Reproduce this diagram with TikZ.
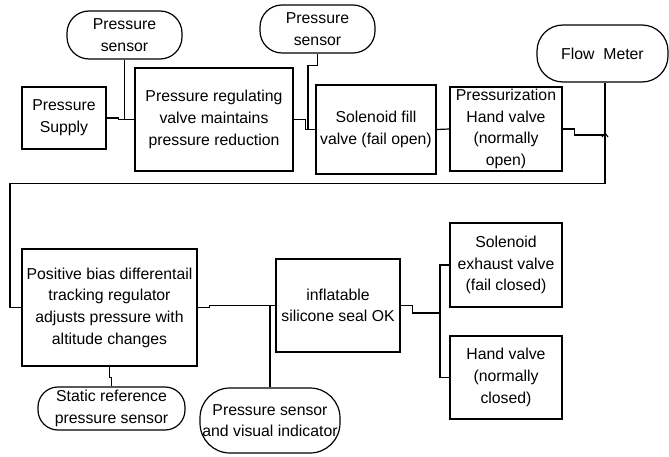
\documentclass[tikz,border=0pt]{standalone}
\usepackage{fontspec}
\setmainfont{Liberation Sans}
\usetikzlibrary{calc}
\begin{document}
\begin{tikzpicture}[x=1pt,y=-1pt,
  every node/.style={font=\fontsize{15.8}{21.7}\selectfont, align=center, inner sep=0pt},
  box/.style={draw, line width=1.3pt},
  pill/.style={draw, line width=1.2pt, rounded corners=22pt},
  wire/.style={line width=1.2pt}]
\useasboundingbox (0,0) rectangle (669,457);
% top row
\node[box, minimum width=84pt, minimum height=62pt] (supply) at (64,118) {Pressure\\Supply};
\node[pill, minimum width=115pt, minimum height=48pt] (sensA) at (124.5,35) {Pressure\\sensor};
\node[box, minimum width=158pt, minimum height=103pt] (reg) at (214,119.5) {Pressure regulating\\valve maintains\\pressure reduction};
\node[pill, minimum width=115pt, minimum height=48pt] (sensB) at (317.5,29) {Pressure\\sensor};
\node[box, minimum width=120pt, minimum height=89pt] (fill) at (376,129.5) {Solenoid fill\\valve (fail open)};
\node[box, minimum width=112pt, minimum height=84pt] (handA) at (506,129) {Pressurization\\Hand valve\\(normally\\open)};
\node[pill, minimum width=131pt, minimum height=57pt, rounded corners=26pt] (flow) at (602.5,53.5) {Flow\ \ Meter};
% bottom part
\node[box, minimum width=175pt, minimum height=117pt] (bias) at (109.5,307.5) {Positive bias differentail\\tracking regulator\\adjusts pressure with\\altitude changes};
\node[pill, minimum width=147pt, minimum height=43pt, rounded corners=20pt] (static) at (111.5,408.5) {Static reference\\pressure sensor};
\node[pill, minimum width=140pt, minimum height=65pt, rounded corners=30pt] (psvi) at (270,420.5) {Pressure sensor\\and visual indicator};
\node[box, minimum width=124pt, minimum height=93pt] (seal) at (338,305.5) {inflatable\\silicone seal OK};
\node[box, minimum width=112pt, minimum height=84pt] (exh) at (506,265) {Solenoid\\exhaust valve\\(fail closed)};
\node[box, minimum width=112pt, minimum height=83pt] (handB) at (506,377.5) {Hand valve\\(normally\\closed)};
% connectors top
\draw[wire] (supply.east) -- ++(12,0) |- (reg.west);
\draw[wire] (sensA.south) -- (sensA.south |- reg.west);
\draw[wire] (reg.east) -- ++(12,0) |- (fill.west);
\draw[wire] (sensB.south) -- ++(0,12) -- ++(-9.5,0) |- (fill.west);
\draw[wire] (fill.east) -- (handA.west);
\coordinate (hop) at (605,135);
\draw[wire] (handA.east) -- ++(12,0) |- (hop);
\draw[line width=1pt] ($(hop)+(-3,2)$) -- ($(hop)+(0,-2)$) -- ($(hop)+(3,2)$);
\draw[wire] (flow.south) ++(2.5,0) -- ++(0,101) -| (10,307.5) -- (bias.west);
% connectors bottom
\draw[wire] (bias.east) -- ++(12,0) |- (seal.west);
\draw[wire] (psvi.north) -- (psvi.north |- seal.west);
\draw[wire] (bias.south) -- ++(0,11) -| (static.north);
\coordinate (junc) at (440,313);
\draw[wire] (seal.east) -- ++(12,0) |- (junc);
\draw[wire] (exh.west) -| (junc) |- (handB.west);
\end{tikzpicture}
\end{document}
